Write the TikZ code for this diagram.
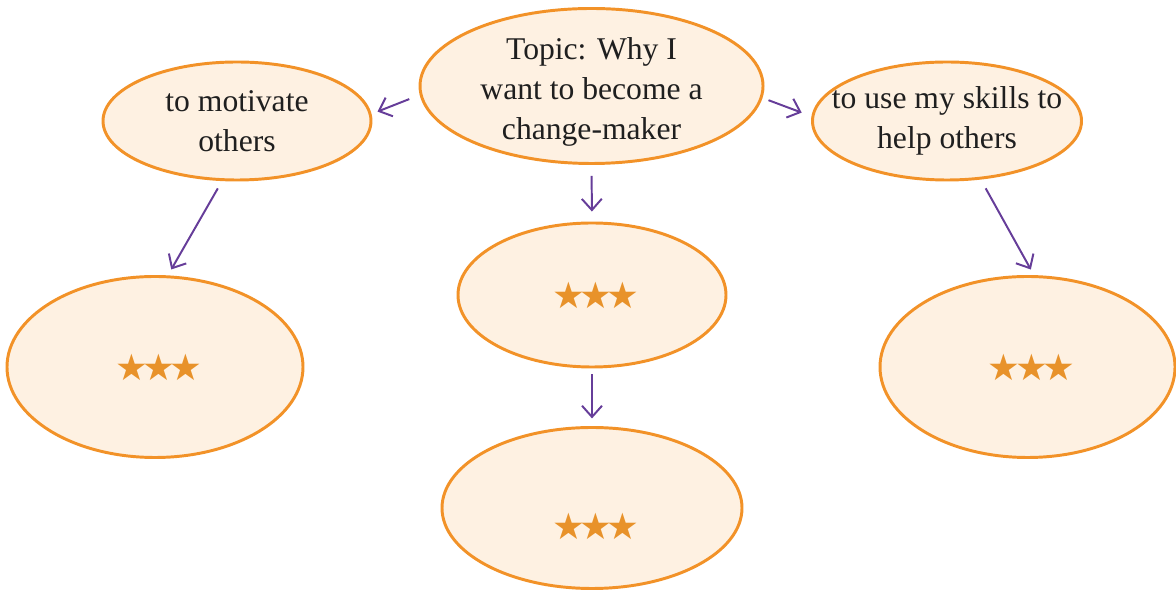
\documentclass[tikz,border=0pt]{standalone}
\usepackage{fontspec}
\setmainfont{Liberation Serif}
\newfontfamily\starfont{DejaVu Sans}
\usetikzlibrary{arrows.meta,shapes.geometric}
\definecolor{bubbleedge}{RGB}{242,146,40}
\definecolor{bubblefill}{RGB}{254,241,226}
\definecolor{starorange}{RGB}{232,146,42}
\definecolor{linkpurple}{RGB}{102,61,153}
\newcommand{\threestars}{★\kern-0.15em★\kern-0.15em★}
\tikzset{
  bubble/.style={ellipse, draw=bubbleedge, fill=bubblefill, line width=2.1pt, inner xsep=-0.5cm, inner ysep=-0.2cm, align=center, text=black!88, font=\fontsize{22.5}{28.5}\selectfont},
  starmark/.style={font=\starfont\fontsize{26}{26}\selectfont, text=starorange, inner sep=0pt},
  link/.style={draw=linkpurple, line width=1.4pt, -{Straight Barb[length=0.28cm,width=0.5cm]}},
}

\begin{document}
\begin{tikzpicture}
\useasboundingbox (0,0) rectangle (29.400,14.750);
% top row
\node[bubble, minimum width=8.575cm, minimum height=3.875cm, label={[bubble, draw=none, fill=none, yshift=-0.15cm]center:Topic: Why I\\want to become a\\change-maker}] (topic) at (14.788,12.600) {};
\node[bubble, minimum width=6.700cm, minimum height=2.950cm] (motivate) at (5.925,11.725) {to motivate\\others};
\node[bubble, minimum width=6.700cm, minimum height=2.950cm] (skills) at (23.675,11.725) {to use my skills to\\help others};
% star bubbles
\node[bubble, minimum width=7.400cm, minimum height=4.525cm, label={[starmark, xshift=0.1cm]center:\threestars}] (leftstar) at (3.875,5.575) {};
\node[bubble, minimum width=7.375cm, minimum height=4.525cm, label={[starmark, xshift=0.1cm]center:\threestars}] (rightstar) at (25.688,5.575) {};
\node[bubble, minimum width=6.700cm, minimum height=3.600cm, label={[starmark, xshift=0.1cm]center:\threestars}] (midstar) at (14.800,7.375) {};
\node[bubble, minimum width=7.500cm, minimum height=4.025cm, label={[starmark, xshift=0.1cm, yshift=-0.45cm]center:\threestars}] (lowstar) at (14.800,2.050) {};
% links
\draw[link, shorten <=0.28cm, shorten >=0.16cm] (topic.183) -- (motivate.3);
\draw[link, shorten <=0.16cm, shorten >=0.26cm] (topic.356) -- (skills.178);
\draw[link, shorten <=0.27cm, shorten >=0.25cm] (topic.south) -- (midstar.north);
\draw[link, shorten <=0.15cm, shorten >=0.19cm] (midstar.south) -- (lowstar.north);
\draw[link, shorten <=0.21cm, shorten >=0.17cm] (motivate.256) -- (leftstar.82);
\draw[link, shorten <=0.25cm, shorten >=0.16cm] (skills.300) -- (rightstar.86);
\end{tikzpicture}
\end{document}
